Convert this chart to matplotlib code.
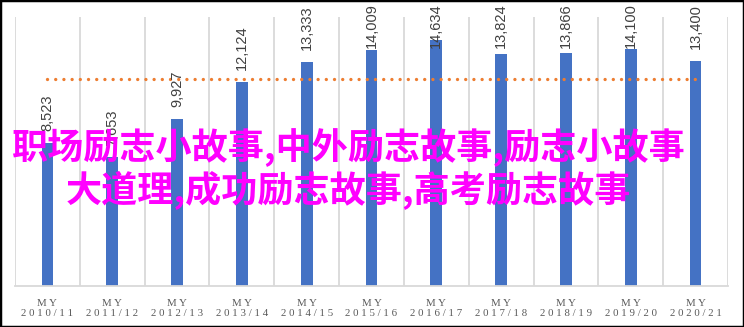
import matplotlib.pyplot as plt
from matplotlib.patches import Rectangle

plt.rcParams["font.family"] = ["Noto Sans CJK SC", "DejaVu Sans"]

seasons = [
    "2010/11", "2011/12", "2012/13", "2013/14", "2014/15", "2015/16",
    "2016/17", "2017/18", "2018/19", "2019/20", "2020/21",
]
values = [8523, 7653, 9927, 12124, 13333, 14009, 14634, 13824, 13866, 14100, 13400]
average = [12300, 12300, 12300, 12300, 12300, 12300, 12300, 12300, 12300, 12300, 12300]
overlay_lines = [
    "职场励志小故事,中外励志故事,励志小故事",
    "大道理,成功励志故事,高考励志故事",
]

BAR_COLOR = "#4472C4"
LINE_COLOR = "#ED7D31"
GRID_COLOR = "#D9D9D9"
Y_MAX = 16000
LABEL_GAP = 700
LABEL_CAP = 14150


def spaced(text: str) -> str:
    return " ".join(text)


fig = plt.figure(figsize=(7.44, 3.27), dpi=100)
ax = fig.add_axes([15 / 744, 41 / 327, 713 / 744, 269 / 327])

x = list(range(len(seasons)))
ax.bar(x, values, width=0.18, color=BAR_COLOR, zorder=2)
ax.plot(
    x, average, color=LINE_COLOR, linewidth=2.4,
    linestyle=(0, (0.01, 2.45)), dash_capstyle="round", zorder=3,
)

for xi, v in zip(x, values):
    ax.text(
        xi, min(v + LABEL_GAP, LABEL_CAP), f"{v:,}",
        rotation=90, ha="center", va="bottom",
        fontsize=10.5, color="#404040", family="Liberation Sans", zorder=4,
        clip_on=False,
    )

ax.set_xlim(-0.5, len(seasons) - 0.5)
ax.set_ylim(0, Y_MAX)

for b in range(len(seasons) + 1):
    ax.axvline(b - 0.5, color=GRID_COLOR, linewidth=1.3, zorder=1)

ax.set_xticks(x)
ax.set_xticklabels(
    [spaced("MY") + "\n" + spaced(s) for s in seasons],
    family="Liberation Serif", fontsize=7.8, color="#595959", linespacing=1.25,
)
ax.tick_params(axis="x", length=0, pad=9)
ax.set_yticks([])
for side in ["left", "right", "top"]:
    ax.spines[side].set_visible(False)
ax.spines["bottom"].set_color(GRID_COLOR)
ax.spines["bottom"].set_linewidth(1.3)

fig.text(
    349 / 744, 1 - 148 / 327, overlay_lines[0],
    ha="center", va="center", fontsize=26, color="#FF00FF", fontweight="bold",
)
fig.text(
    348 / 744, 1 - 190 / 327, overlay_lines[1],
    ha="center", va="center", fontsize=26, color="#FF00FF", fontweight="bold",
)

fig.patches.append(
    Rectangle((0, 0), 1, 1, transform=fig.transFigure, fill=False,
              edgecolor="black", linewidth=2.5, zorder=10)
)

fig.savefig("out.png", dpi=100)
